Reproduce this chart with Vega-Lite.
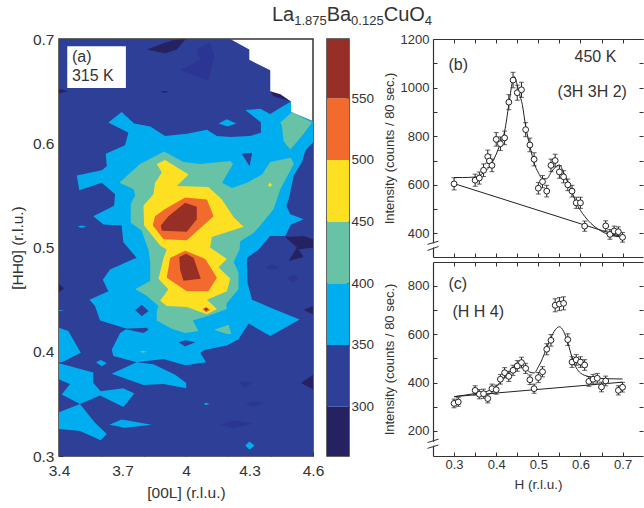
{"$schema":"https://vega.github.io/schema/vega-lite/v6.json","background":"white","autosize":{"type":"pad"},"padding":{"left":9,"top":4,"right":0,"bottom":0},"bounds":"flush","spacing":14,
"config":{"font":"Liberation Sans","view":{"stroke":null},"axis":{"labelFont":"Liberation Sans","titleFont":"Liberation Sans","labelColor":"#333","titleColor":"#333","tickColor":"#333","domainColor":"#333","grid":false,"titleFontWeight":"normal","labelOverlap":false,"labelFlush":false,"tickWidth":1,"domainWidth":1.2}},
"datasets":{
"contour":[
{"p":1,"b":"b","L":3.4,"H":0.7},{"p":1,"b":"b","L":4.209,"H":0.7},{"p":1,"b":"b","L":4.299,"H":0.69},{"p":1,"b":"b","L":4.299,"H":0.68},{"p":1,"b":"b","L":4.398,"H":0.67},{"p":1,"b":"b","L":4.398,"H":0.65},{"p":1,"b":"b","L":4.496,"H":0.64},{"p":1,"b":"b","L":4.496,"H":0.63},{"p":1,"b":"b","L":4.6,"H":0.621},{"p":1,"b":"b","L":4.6,"H":0.3},{"p":1,"b":"b","L":3.4,"H":0.3},
{"p":2,"b":"n","L":3.815,"H":0.69},{"p":2,"b":"n","L":3.894,"H":0.696},{"p":2,"b":"n","L":3.941,"H":0.699},{"p":2,"b":"n","L":3.999,"H":0.7},{"p":2,"b":"n","L":3.957,"H":0.69},{"p":2,"b":"n","L":3.901,"H":0.686},
{"p":3,"b":"n","L":4.469,"H":0.51},{"p":3,"b":"n","L":4.556,"H":0.511},{"p":3,"b":"n","L":4.6,"H":0.508},{"p":3,"b":"n","L":4.6,"H":0.5},{"p":3,"b":"n","L":4.532,"H":0.498},{"p":3,"b":"n","L":4.556,"H":0.491},{"p":3,"b":"n","L":4.485,"H":0.487},{"p":3,"b":"n","L":4.524,"H":0.5},
{"p":4,"b":"n","L":3.4,"H":0.652},{"p":4,"b":"n","L":3.444,"H":0.65},{"p":4,"b":"n","L":3.4,"H":0.648},
{"p":5,"b":"n","L":3.878,"H":0.65},{"p":5,"b":"n","L":3.917,"H":0.65},{"p":5,"b":"n","L":3.901,"H":0.648},
{"p":6,"b":"n","L":4.398,"H":0.65},{"p":6,"b":"n","L":4.446,"H":0.647},{"p":6,"b":"n","L":4.496,"H":0.64},{"p":6,"b":"n","L":4.414,"H":0.645},
{"p":7,"b":"n","L":3.4,"H":0.465},{"p":7,"b":"n","L":3.424,"H":0.461},{"p":7,"b":"n","L":3.4,"H":0.457},
{"p":8,"b":"n","L":4.556,"H":0.44},{"p":8,"b":"n","L":4.6,"H":0.444},{"p":8,"b":"n","L":4.6,"H":0.436},
{"p":9,"b":"n","L":4.543,"H":0.37},{"p":9,"b":"n","L":4.6,"H":0.378},{"p":9,"b":"n","L":4.6,"H":0.364},
{"p":10,"b":"f","L":4.051,"H":0.69},{"p":10,"b":"f","L":4.114,"H":0.697},{"p":10,"b":"f","L":4.133,"H":0.684},{"p":10,"b":"f","L":4.106,"H":0.66},{"p":10,"b":"f","L":3.972,"H":0.67},{"p":10,"b":"f","L":4.067,"H":0.68},
{"p":11,"b":"f","L":4.375,"H":0.481},{"p":11,"b":"f","L":4.406,"H":0.484},{"p":11,"b":"f","L":4.445,"H":0.481},{"p":11,"b":"f","L":4.406,"H":0.478},
{"p":12,"b":"f","L":4.477,"H":0.471},{"p":12,"b":"f","L":4.509,"H":0.474},{"p":12,"b":"f","L":4.532,"H":0.47},{"p":12,"b":"f","L":4.501,"H":0.466},
{"p":13,"b":"f","L":4.248,"H":0.37},{"p":13,"b":"f","L":4.28,"H":0.372},{"p":13,"b":"f","L":4.312,"H":0.37},{"p":13,"b":"f","L":4.28,"H":0.366},
{"p":14,"b":"f","L":4.28,"H":0.351},{"p":14,"b":"f","L":4.319,"H":0.352},{"p":14,"b":"f","L":4.367,"H":0.351},{"p":14,"b":"f","L":4.319,"H":0.347},
{"p":15,"b":"f","L":4.162,"H":0.33},{"p":15,"b":"f","L":4.225,"H":0.334},{"p":15,"b":"f","L":4.319,"H":0.331},{"p":15,"b":"f","L":4.225,"H":0.327},
{"p":20,"b":"c","L":3.633,"H":0.62},{"p":20,"b":"c","L":3.696,"H":0.63},{"p":20,"b":"c","L":3.755,"H":0.619},{"p":20,"b":"c","L":3.831,"H":0.616},{"p":20,"b":"c","L":3.901,"H":0.607},{"p":20,"b":"c","L":4.004,"H":0.609},{"p":20,"b":"c","L":4.099,"H":0.613},{"p":20,"b":"c","L":4.146,"H":0.607},{"p":20,"b":"c","L":4.209,"H":0.606},{"p":20,"b":"c","L":4.304,"H":0.607},{"p":20,"b":"c","L":4.354,"H":0.61},{"p":20,"b":"c","L":4.354,"H":0.62},{"p":20,"b":"c","L":4.28,"H":0.632},{"p":20,"b":"c","L":4.351,"H":0.633},{"p":20,"b":"c","L":4.398,"H":0.628},{"p":20,"b":"c","L":4.446,"H":0.634},{"p":20,"b":"c","L":4.496,"H":0.64},{"p":20,"b":"c","L":4.496,"H":0.63},{"p":20,"b":"c","L":4.6,"H":0.621},{"p":20,"b":"c","L":4.6,"H":0.601},{"p":20,"b":"c","L":4.564,"H":0.593},{"p":20,"b":"c","L":4.548,"H":0.582},{"p":20,"b":"c","L":4.509,"H":0.569},{"p":20,"b":"c","L":4.485,"H":0.546},{"p":20,"b":"c","L":4.474,"H":0.54},{"p":20,"b":"c","L":4.493,"H":0.532},{"p":20,"b":"c","L":4.556,"H":0.527},{"p":20,"b":"c","L":4.496,"H":0.522},{"p":20,"b":"c","L":4.469,"H":0.511},{"p":20,"b":"c","L":4.398,"H":0.511},{"p":20,"b":"c","L":4.343,"H":0.498},{"p":20,"b":"c","L":4.288,"H":0.49},{"p":20,"b":"c","L":4.291,"H":0.466},{"p":20,"b":"c","L":4.312,"H":0.45},{"p":20,"b":"c","L":4.414,"H":0.441},{"p":20,"b":"c","L":4.537,"H":0.431},{"p":20,"b":"c","L":4.398,"H":0.415},{"p":20,"b":"c","L":4.296,"H":0.427},{"p":20,"b":"c","L":4.248,"H":0.412},{"p":20,"b":"c","L":4.193,"H":0.406},{"p":20,"b":"c","L":4.091,"H":0.402},{"p":20,"b":"c","L":4.067,"H":0.399},{"p":20,"b":"c","L":4.095,"H":0.39},{"p":20,"b":"c","L":3.996,"H":0.387},{"p":20,"b":"c","L":3.894,"H":0.393},{"p":20,"b":"c","L":3.767,"H":0.39},{"p":20,"b":"c","L":3.846,"H":0.388},{"p":20,"b":"c","L":3.949,"H":0.378},{"p":20,"b":"c","L":4.001,"H":0.37},{"p":20,"b":"c","L":4.001,"H":0.365},{"p":20,"b":"c","L":3.894,"H":0.369},{"p":20,"b":"c","L":3.799,"H":0.368},{"p":20,"b":"c","L":3.649,"H":0.379},{"p":20,"b":"c","L":3.767,"H":0.39},{"p":20,"b":"c","L":3.657,"H":0.396},{"p":20,"b":"c","L":3.649,"H":0.402},{"p":20,"b":"c","L":3.689,"H":0.418},{"p":20,"b":"c","L":3.72,"H":0.422},{"p":20,"b":"c","L":3.594,"H":0.43},{"p":20,"b":"c","L":3.57,"H":0.444},{"p":20,"b":"c","L":3.544,"H":0.45},{"p":20,"b":"c","L":3.633,"H":0.458},{"p":20,"b":"c","L":3.607,"H":0.469},{"p":20,"b":"c","L":3.641,"H":0.479},{"p":20,"b":"c","L":3.752,"H":0.489},{"p":20,"b":"c","L":3.767,"H":0.49},{"p":20,"b":"c","L":3.704,"H":0.505},{"p":20,"b":"c","L":3.696,"H":0.521},{"p":20,"b":"c","L":3.61,"H":0.522},{"p":20,"b":"c","L":3.562,"H":0.53},{"p":20,"b":"c","L":3.66,"H":0.54},{"p":20,"b":"c","L":3.665,"H":0.551},{"p":20,"b":"c","L":3.602,"H":0.562},{"p":20,"b":"c","L":3.496,"H":0.555},{"p":20,"b":"c","L":3.484,"H":0.569},{"p":20,"b":"c","L":3.602,"H":0.574},{"p":20,"b":"c","L":3.626,"H":0.578},{"p":20,"b":"c","L":3.621,"H":0.59},{"p":20,"b":"c","L":3.712,"H":0.598},{"p":20,"b":"c","L":3.728,"H":0.61},
{"p":21,"b":"c","L":3.4,"H":0.423},{"p":21,"b":"c","L":3.444,"H":0.42},{"p":21,"b":"c","L":3.503,"H":0.399},{"p":21,"b":"c","L":3.413,"H":0.39},{"p":21,"b":"c","L":3.4,"H":0.39},
{"p":22,"b":"c","L":3.4,"H":0.389},{"p":22,"b":"c","L":3.562,"H":0.38},{"p":22,"b":"c","L":3.562,"H":0.37},{"p":22,"b":"c","L":3.597,"H":0.362},{"p":22,"b":"c","L":3.704,"H":0.365},{"p":22,"b":"c","L":3.756,"H":0.36},{"p":22,"b":"c","L":3.704,"H":0.347},{"p":22,"b":"c","L":3.594,"H":0.358},{"p":22,"b":"c","L":3.499,"H":0.35},{"p":22,"b":"c","L":3.413,"H":0.359},{"p":22,"b":"c","L":3.452,"H":0.369},{"p":22,"b":"c","L":3.405,"H":0.373},{"p":22,"b":"c","L":3.4,"H":0.374},
{"p":23,"b":"c","L":3.4,"H":0.342},{"p":23,"b":"c","L":3.499,"H":0.35},{"p":23,"b":"c","L":3.57,"H":0.332},{"p":23,"b":"c","L":3.626,"H":0.321},{"p":23,"b":"c","L":3.597,"H":0.315},{"p":23,"b":"c","L":3.499,"H":0.324},{"p":23,"b":"c","L":3.4,"H":0.326},
{"p":24,"b":"c","L":3.638,"H":0.33},{"p":24,"b":"c","L":3.696,"H":0.335},{"p":24,"b":"c","L":3.838,"H":0.33},{"p":24,"b":"c","L":3.712,"H":0.327},
{"p":25,"b":"c","L":3.575,"H":0.39},{"p":25,"b":"c","L":3.597,"H":0.392},{"p":25,"b":"c","L":3.626,"H":0.389},{"p":25,"b":"c","L":3.602,"H":0.386},
{"p":26,"b":"c","L":4.28,"H":0.31},{"p":26,"b":"c","L":4.3,"H":0.314},{"p":26,"b":"c","L":4.323,"H":0.31},{"p":26,"b":"c","L":4.3,"H":0.306},
{"p":27,"b":"c","L":4.083,"H":0.35},{"p":27,"b":"c","L":4.095,"H":0.351},{"p":27,"b":"c","L":4.111,"H":0.35},{"p":27,"b":"c","L":4.095,"H":0.349},
{"p":28,"b":"c","L":3.4,"H":0.44},{"p":28,"b":"c","L":3.428,"H":0.44},{"p":28,"b":"c","L":3.4,"H":0.439},
{"p":29,"b":"c","L":3.487,"H":0.52},{"p":29,"b":"c","L":3.507,"H":0.521},{"p":29,"b":"c","L":3.531,"H":0.52},{"p":29,"b":"c","L":3.507,"H":0.519},
{"p":30,"b":"c","L":4.154,"H":0.619},{"p":30,"b":"c","L":4.193,"H":0.623},{"p":30,"b":"c","L":4.237,"H":0.619},{"p":30,"b":"c","L":4.196,"H":0.616},
{"p":31,"b":"b","L":4.264,"H":0.59},{"p":31,"b":"b","L":4.313,"H":0.591},{"p":31,"b":"b","L":4.3,"H":0.578},
{"p":32,"b":"b","L":3.76,"H":0.44},{"p":32,"b":"b","L":3.791,"H":0.445},{"p":32,"b":"b","L":3.823,"H":0.439},{"p":32,"b":"b","L":3.791,"H":0.434},
{"p":33,"b":"b","L":3.704,"H":0.422},{"p":33,"b":"b","L":3.815,"H":0.423},{"p":33,"b":"b","L":3.823,"H":0.421},{"p":33,"b":"b","L":3.799,"H":0.418},
{"p":34,"b":"b","L":3.965,"H":0.409},{"p":34,"b":"b","L":3.996,"H":0.411},{"p":34,"b":"b","L":4.043,"H":0.409},{"p":34,"b":"b","L":3.996,"H":0.405},
{"p":40,"b":"g","L":3.685,"H":0.562},{"p":40,"b":"g","L":3.783,"H":0.58},{"p":40,"b":"g","L":3.897,"H":0.592},{"p":40,"b":"g","L":3.988,"H":0.582},{"p":40,"b":"g","L":4.067,"H":0.58},{"p":40,"b":"g","L":4.209,"H":0.583},{"p":40,"b":"g","L":4.222,"H":0.58},{"p":40,"b":"g","L":4.17,"H":0.562},{"p":40,"b":"g","L":4.217,"H":0.557},{"p":40,"b":"g","L":4.288,"H":0.562},{"p":40,"b":"g","L":4.359,"H":0.57},{"p":40,"b":"g","L":4.398,"H":0.582},{"p":40,"b":"g","L":4.496,"H":0.586},{"p":40,"b":"g","L":4.509,"H":0.58},{"p":40,"b":"g","L":4.446,"H":0.556},{"p":40,"b":"g","L":4.414,"H":0.537},{"p":40,"b":"g","L":4.351,"H":0.521},{"p":40,"b":"g","L":4.319,"H":0.514},{"p":40,"b":"g","L":4.256,"H":0.506},{"p":40,"b":"g","L":4.253,"H":0.498},{"p":40,"b":"g","L":4.225,"H":0.486},{"p":40,"b":"g","L":4.248,"H":0.476},{"p":40,"b":"g","L":4.248,"H":0.46},{"p":40,"b":"g","L":4.19,"H":0.446},{"p":40,"b":"g","L":4.193,"H":0.441},{"p":40,"b":"g","L":4.099,"H":0.434},{"p":40,"b":"g","L":4.032,"H":0.43},{"p":40,"b":"g","L":4.059,"H":0.42},{"p":40,"b":"g","L":3.996,"H":0.418},{"p":40,"b":"g","L":3.933,"H":0.422},{"p":40,"b":"g","L":3.862,"H":0.43},{"p":40,"b":"g","L":3.862,"H":0.439},{"p":40,"b":"g","L":3.87,"H":0.444},{"p":40,"b":"g","L":3.812,"H":0.454},{"p":40,"b":"g","L":3.76,"H":0.46},{"p":40,"b":"g","L":3.831,"H":0.468},{"p":40,"b":"g","L":3.831,"H":0.486},{"p":40,"b":"g","L":3.823,"H":0.498},{"p":40,"b":"g","L":3.815,"H":0.502},{"p":40,"b":"g","L":3.791,"H":0.516},{"p":40,"b":"g","L":3.739,"H":0.524},{"p":40,"b":"g","L":3.739,"H":0.542},{"p":40,"b":"g","L":3.76,"H":0.55},{"p":40,"b":"g","L":3.752,"H":0.556},
{"p":41,"b":"g","L":4.446,"H":0.62},{"p":41,"b":"g","L":4.501,"H":0.63},{"p":41,"b":"g","L":4.595,"H":0.62},{"p":41,"b":"g","L":4.556,"H":0.609},{"p":41,"b":"g","L":4.493,"H":0.594},{"p":41,"b":"g","L":4.461,"H":0.602},{"p":41,"b":"g","L":4.453,"H":0.617},
{"p":42,"b":"g","L":4.133,"H":0.421},{"p":42,"b":"g","L":4.201,"H":0.426},{"p":42,"b":"g","L":4.214,"H":0.417},{"p":42,"b":"g","L":4.193,"H":0.417},
{"p":43,"b":"g","L":3.78,"H":0.4},{"p":43,"b":"g","L":3.799,"H":0.401},{"p":43,"b":"g","L":3.815,"H":0.4},{"p":43,"b":"g","L":3.799,"H":0.399},
{"p":50,"b":"y","L":3.862,"H":0.58},{"p":50,"b":"y","L":3.901,"H":0.584},{"p":50,"b":"y","L":4.012,"H":0.57},{"p":50,"b":"y","L":3.957,"H":0.559},{"p":50,"b":"y","L":4.106,"H":0.558},{"p":50,"b":"y","L":4.17,"H":0.546},{"p":50,"b":"y","L":4.225,"H":0.529},{"p":50,"b":"y","L":4.272,"H":0.52},{"p":50,"b":"y","L":4.122,"H":0.51},{"p":50,"b":"y","L":4.114,"H":0.5},{"p":50,"b":"y","L":4.193,"H":0.489},{"p":50,"b":"y","L":4.154,"H":0.481},{"p":50,"b":"y","L":4.209,"H":0.47},{"p":50,"b":"y","L":4.193,"H":0.458},{"p":50,"b":"y","L":4.099,"H":0.45},{"p":50,"b":"y","L":4.146,"H":0.441},{"p":50,"b":"y","L":4.099,"H":0.436},{"p":50,"b":"y","L":4.004,"H":0.443},{"p":50,"b":"y","L":3.909,"H":0.444},{"p":50,"b":"y","L":3.878,"H":0.449},{"p":50,"b":"y","L":3.917,"H":0.46},{"p":50,"b":"y","L":3.87,"H":0.47},{"p":50,"b":"y","L":3.894,"H":0.49},{"p":50,"b":"y","L":3.909,"H":0.498},{"p":50,"b":"y","L":3.878,"H":0.502},{"p":50,"b":"y","L":3.802,"H":0.521},{"p":50,"b":"y","L":3.799,"H":0.54},{"p":50,"b":"y","L":3.846,"H":0.551},{"p":50,"b":"y","L":3.854,"H":0.562},{"p":50,"b":"y","L":3.886,"H":0.572},
{"p":51,"b":"y","L":4.387,"H":0.56},{"p":51,"b":"y","L":4.398,"H":0.562},{"p":51,"b":"y","L":4.406,"H":0.56},{"p":51,"b":"y","L":4.397,"H":0.558},
{"p":60,"b":"o","L":3.901,"H":0.537},{"p":60,"b":"o","L":3.996,"H":0.548},{"p":60,"b":"o","L":4.099,"H":0.546},{"p":60,"b":"o","L":4.13,"H":0.53},{"p":60,"b":"o","L":4.004,"H":0.507},{"p":60,"b":"o","L":3.894,"H":0.508},{"p":60,"b":"o","L":3.843,"H":0.521},{"p":60,"b":"o","L":3.854,"H":0.53},
{"p":61,"b":"o","L":3.925,"H":0.49},{"p":61,"b":"o","L":3.996,"H":0.497},{"p":61,"b":"o","L":4.091,"H":0.489},{"p":61,"b":"o","L":4.146,"H":0.471},{"p":61,"b":"o","L":4.106,"H":0.458},{"p":61,"b":"o","L":4.004,"H":0.458},{"p":61,"b":"o","L":3.909,"H":0.471},
{"p":62,"b":"o","L":4.078,"H":0.441},{"p":62,"b":"o","L":4.095,"H":0.443},{"p":62,"b":"o","L":4.114,"H":0.44},{"p":62,"b":"o","L":4.095,"H":0.438},
{"p":70,"b":"r","L":3.917,"H":0.53},{"p":70,"b":"r","L":3.996,"H":0.543},{"p":70,"b":"r","L":4.051,"H":0.539},{"p":70,"b":"r","L":4.051,"H":0.527},{"p":70,"b":"r","L":4.004,"H":0.515},{"p":70,"b":"r","L":3.886,"H":0.516},{"p":70,"b":"r","L":3.881,"H":0.521},
{"p":71,"b":"r","L":3.968,"H":0.491},{"p":71,"b":"r","L":4.001,"H":0.494},{"p":71,"b":"r","L":4.036,"H":0.49},{"p":71,"b":"r","L":4.07,"H":0.47},{"p":71,"b":"r","L":3.988,"H":0.468},{"p":71,"b":"r","L":3.972,"H":0.479},
{"p":72,"b":"r","L":4.086,"H":0.441},{"p":72,"b":"r","L":4.095,"H":0.442},{"p":72,"b":"r","L":4.106,"H":0.441},{"p":72,"b":"r","L":4.095,"H":0.439}
],
"bPts":[{"H":0.3,"I":604,"lo":579,"hi":629},{"H":0.35,"I":619,"lo":594,"hi":644},{"H":0.36,"I":628,"lo":603,"hi":653},{"H":0.37,"I":660,"lo":634,"hi":686},{"H":0.38,"I":716,"lo":689,"hi":743},{"H":0.384,"I":698,"lo":672,"hi":724},{"H":0.39,"I":680,"lo":654,"hi":706},{"H":0.4,"I":787,"lo":759,"hi":815},{"H":0.41,"I":769,"lo":741,"hi":797},{"H":0.42,"I":793,"lo":765,"hi":821},{"H":0.43,"I":940,"lo":909,"hi":971},{"H":0.44,"I":1031,"lo":999,"hi":1063},{"H":0.45,"I":979,"lo":948,"hi":1010},{"H":0.46,"I":991,"lo":960,"hi":1022},{"H":0.47,"I":827,"lo":798,"hi":856},{"H":0.48,"I":764,"lo":736,"hi":792},{"H":0.49,"I":705,"lo":678,"hi":732},{"H":0.5,"I":586,"lo":562,"hi":610},{"H":0.51,"I":613,"lo":588,"hi":638},{"H":0.52,"I":574,"lo":550,"hi":598},{"H":0.53,"I":680,"lo":654,"hi":706},{"H":0.54,"I":700,"lo":674,"hi":726},{"H":0.55,"I":653,"lo":627,"hi":679},{"H":0.56,"I":633,"lo":608,"hi":658},{"H":0.57,"I":600,"lo":576,"hi":624},{"H":0.58,"I":574,"lo":550,"hi":598},{"H":0.59,"I":526,"lo":503,"hi":549},{"H":0.6,"I":526,"lo":503,"hi":549},{"H":0.61,"I":430,"lo":409,"hi":451},{"H":0.66,"I":431,"lo":410,"hi":452},{"H":0.67,"I":396,"lo":376,"hi":416},{"H":0.68,"I":410,"lo":390,"hi":430},{"H":0.69,"I":407,"lo":387,"hi":427},{"H":0.7,"I":384,"lo":364,"hi":404}],
"bFit":[{"H":0.3,"I":630},{"H":0.32,"I":630},{"H":0.35,"I":632},{"H":0.37,"I":650},{"H":0.39,"I":690},{"H":0.41,"I":770},{"H":0.42,"I":820},{"H":0.43,"I":930},{"H":0.44,"I":1035},{"H":0.443,"I":1045},{"H":0.45,"I":1010},{"H":0.455,"I":975},{"H":0.462,"I":930},{"H":0.47,"I":840},{"H":0.48,"I":760},{"H":0.49,"I":690},{"H":0.5,"I":650},{"H":0.51,"I":625},{"H":0.52,"I":625},{"H":0.53,"I":650},{"H":0.54,"I":672},{"H":0.55,"I":682},{"H":0.56,"I":650},{"H":0.57,"I":610},{"H":0.58,"I":570},{"H":0.59,"I":525},{"H":0.6,"I":495},{"H":0.62,"I":450},{"H":0.64,"I":420},{"H":0.66,"I":400},{"H":0.68,"I":390},{"H":0.7,"I":385}],
"bBg":[{"H":0.3,"I":605},{"H":0.7,"I":385}],
"cPts":[{"H":0.3,"I":314,"lo":296,"hi":332},{"H":0.31,"I":320,"lo":302,"hi":338},{"H":0.35,"I":368,"lo":349,"hi":387},{"H":0.36,"I":352,"lo":333,"hi":371},{"H":0.37,"I":354,"lo":335,"hi":373},{"H":0.38,"I":334,"lo":316,"hi":352},{"H":0.39,"I":375,"lo":356,"hi":394},{"H":0.4,"I":371,"lo":352,"hi":390},{"H":0.41,"I":414,"lo":394,"hi":434},{"H":0.42,"I":441,"lo":420,"hi":462},{"H":0.43,"I":426,"lo":405,"hi":447},{"H":0.44,"I":451,"lo":430,"hi":472},{"H":0.45,"I":469,"lo":447,"hi":491},{"H":0.46,"I":483,"lo":461,"hi":505},{"H":0.47,"I":459,"lo":438,"hi":480},{"H":0.48,"I":412,"lo":392,"hi":432},{"H":0.49,"I":375,"lo":356,"hi":394},{"H":0.5,"I":421,"lo":400,"hi":442},{"H":0.51,"I":445,"lo":424,"hi":466},{"H":0.52,"I":538,"lo":515,"hi":561},{"H":0.53,"I":575,"lo":551,"hi":599},{"H":0.54,"I":720,"lo":693,"hi":747},{"H":0.55,"I":725,"lo":698,"hi":752},{"H":0.56,"I":728,"lo":701,"hi":755},{"H":0.57,"I":578,"lo":554,"hi":602},{"H":0.58,"I":485,"lo":463,"hi":507},{"H":0.59,"I":494,"lo":472,"hi":516},{"H":0.6,"I":485,"lo":463,"hi":507},{"H":0.61,"I":473,"lo":451,"hi":495},{"H":0.62,"I":405,"lo":385,"hi":425},{"H":0.63,"I":414,"lo":394,"hi":434},{"H":0.64,"I":418,"lo":398,"hi":438},{"H":0.65,"I":382,"lo":362,"hi":402},{"H":0.66,"I":407,"lo":387,"hi":427},{"H":0.69,"I":368,"lo":349,"hi":387},{"H":0.7,"I":381,"lo":361,"hi":401}],
"cFit":[{"H":0.3,"I":342},{"H":0.35,"I":355},{"H":0.38,"I":365},{"H":0.4,"I":385},{"H":0.42,"I":420},{"H":0.44,"I":460},{"H":0.45,"I":472},{"H":0.46,"I":475},{"H":0.47,"I":460},{"H":0.48,"I":443},{"H":0.49,"I":440},{"H":0.5,"I":465},{"H":0.51,"I":500},{"H":0.52,"I":545},{"H":0.53,"I":585},{"H":0.54,"I":618},{"H":0.55,"I":631},{"H":0.56,"I":612},{"H":0.57,"I":565},{"H":0.58,"I":505},{"H":0.59,"I":462},{"H":0.6,"I":440},{"H":0.62,"I":425},{"H":0.64,"I":418},{"H":0.7,"I":415}],
"cBg":[{"H":0.3,"I":342},{"H":0.7,"I":402}]
},
"hconcat":[
{"width":254,"height":417,"view":{"stroke":"#333","strokeWidth":1.5},"resolve":{"axis":{"x":"independent","y":"independent"}},
"layer":[
{"data":{"name":"contour"},"mark":{"type":"line","filled":true,"clip":true,"interpolate":"linear","order":false},
"encoding":{"x":{"field":"L","type":"quantitative","scale":{"domain":[3.4,4.6],"nice":false,"zero":false},"axis":{"title":"[00L] (r.l.u.)","titleFontSize":15.5,"titlePadding":7,"labelFontSize":15.5,"values":[3.4,3.6,3.7,3.8,4,4.2,4.3,4.4,4.6],"labelExpr":"indexof([3.4,3.7,4,4.3,4.6],datum.value)>=0?format(datum.value,'.2~f'):''","tickSize":-4,"labelPadding":11,"domain":false,"tickOpacity":{"condition":{"test":"datum.value==3.7||datum.value==4.3","value":0},"value":1}}},
"y":{"field":"H","type":"quantitative","scale":{"domain":[0.3,0.7],"nice":false,"zero":false},"axis":{"title":"[HH0] (r.l.u.)","titleFontSize":15.5,"titlePadding":7,"labelFontSize":15.5,"values":[0.3,0.35,0.4,0.45,0.5,0.55,0.6,0.65,0.7],"labelExpr":"round(datum.value*100)%10==0?format(datum.value,'.1f'):''","tickSize":-4,"labelPadding":9,"domain":false}},
"detail":{"field":"p","type":"nominal"},
"color":{"field":"b","type":"nominal","legend":null,"scale":{"domain":["n","f","b","c","g","y","o","r"],"range":["#262262","#2C3593","#2E3F98","#00AEEF","#68C3A6","#FDE022","#F26B2D","#982F26"]}}}},
{"data":{"values":[{"L1":3.439,"L2":3.716,"H1":0.653,"H2":0.693}]},"mark":{"type":"rect","fill":"white"},"encoding":{"x":{"field":"L1","type":"quantitative","axis":null,"scale":{"domain":[3.4,4.6],"nice":false,"zero":false}},"x2":{"field":"L2"},"y":{"field":"H1","type":"quantitative","axis":null,"scale":{"domain":[0.3,0.7],"nice":false,"zero":false}},"y2":{"field":"H2"}}},
{"data":{"values":[{"t":"(a)","L":3.461,"H":0.683},{"t":"315 K","L":3.461,"H":0.6645}]},"mark":{"type":"text","align":"left","baseline":"middle","fontSize":16,"color":"#333","font":"Liberation Sans"},"encoding":{"x":{"field":"L","type":"quantitative","axis":null,"scale":{"domain":[3.4,4.6],"nice":false,"zero":false}},"y":{"field":"H","type":"quantitative","axis":null,"scale":{"domain":[0.3,0.7],"nice":false,"zero":false}},"text":{"field":"t"}}},
{"data":{"values":[{"t":"La","L":4.406,"H":0.717},{"t":"Ba","L":4.665,"H":0.717},{"t":"CuO","L":4.934,"H":0.717}]},"mark":{"type":"text","align":"left","baseline":"alphabetic","fontSize":20,"color":"#333","font":"Liberation Sans"},"encoding":{"x":{"field":"L","type":"quantitative","axis":null,"scale":{"domain":[3.4,4.6],"nice":false,"zero":false}},"y":{"field":"H","type":"quantitative","axis":null,"scale":{"domain":[0.3,0.7],"nice":false,"zero":false}},"text":{"field":"t"}}},
{"data":{"values":[{"t":"1.875","L":4.511,"H":0.7134},{"t":"0.125","L":4.78,"H":0.7134},{"t":"4","L":5.128,"H":0.7134}]},"mark":{"type":"text","align":"left","baseline":"alphabetic","fontSize":13,"color":"#333","font":"Liberation Sans"},"encoding":{"x":{"field":"L","type":"quantitative","axis":null,"scale":{"domain":[3.4,4.6],"nice":false,"zero":false}},"y":{"field":"H","type":"quantitative","axis":null,"scale":{"domain":[0.3,0.7],"nice":false,"zero":false}},"text":{"field":"t"}}}
]},
{"width":22,"height":417,"view":{"stroke":"#333","strokeWidth":1.5},
"data":{"values":[{"lo":260,"hi":300,"b":"n"},{"lo":300,"hi":350,"b":"b"},{"lo":350,"hi":400,"b":"c"},{"lo":400,"hi":450,"b":"g"},{"lo":450,"hi":500,"b":"y"},{"lo":500,"hi":550,"b":"o"},{"lo":550,"hi":598,"b":"r"}]},
"mark":{"type":"rect"},
"encoding":{"y":{"field":"lo","type":"quantitative","title":null,"scale":{"domain":[260,598],"nice":false,"zero":false},"axis":{"orient":"right","values":[300,350,400,450,500,550],"labelFontSize":13.5,"tickSize":-3,"labelPadding":5,"domain":false,"title":null}},"y2":{"field":"hi"},"color":{"field":"b","type":"nominal","legend":null,"scale":{"domain":["n","f","b","c","g","y","o","r"],"range":["#262262","#2C3593","#2E3F98","#00AEEF","#68C3A6","#FDE022","#F26B2D","#982F26"]}}}},
{"width":56,"height":417,"data":{"values":[{"t":""}]},"mark":{"type":"text"},"encoding":{"text":{"field":"t"}}},
{"bounds":"flush","spacing":5,"vconcat":[
{"width":210,"height":218,"resolve":{"axis":{"x":"independent","y":"independent"}},
"layer":[
{"data":{"name":"bBg"},"mark":{"type":"line","color":"#222","strokeWidth":1},"encoding":{
"x":{"field":"H","type":"quantitative","scale":{"domain":[0.25,0.7485],"nice":false,"zero":false},"axis":{"orient":"bottom","title":null,"values":[0.3,0.35,0.4,0.45,0.5,0.55,0.6,0.65,0.7],"labels":false,"tickSize":-4}},
"y":{"field":"I","type":"quantitative","scale":{"domain":[303,1200],"nice":false,"zero":false},"axis":{"orient":"left","title":"Intensity (counts / 80 sec.)","titleFontSize":13,"titlePadding":4,"labelFontSize":13,"values":[400,500,600,700,800,900,1000,1100,1200],"labelExpr":"datum.value%200==0?datum.value:''","tickSize":-4,"labelPadding":8}}}},
{"data":{"name":"bFit"},"mark":{"type":"line","color":"#222","strokeWidth":1,"interpolate":"monotone"},"encoding":{
"x":{"field":"H","type":"quantitative","scale":{"domain":[0.25,0.7485],"nice":false,"zero":false},"axis":{"orient":"top","title":null,"values":[0.3,0.35,0.4,0.45,0.5,0.55,0.6,0.65,0.7],"labels":false,"tickSize":-4}},
"y":{"field":"I","type":"quantitative","scale":{"domain":[303,1200],"nice":false,"zero":false},"axis":{"orient":"right","title":null,"domain":false,"labels":false,"values":[400,500,600,700,800,900,1000,1100,1200],"tickSize":-4}}}},
{"data":{"name":"bPts"},"mark":{"type":"rule","color":"#222","strokeWidth":1},"encoding":{"x":{"field":"H","type":"quantitative","axis":null,"scale":{"domain":[0.25,0.7485],"nice":false,"zero":false}},"y":{"field":"lo","type":"quantitative","axis":null,"scale":{"domain":[303,1200],"nice":false,"zero":false}},"y2":{"field":"hi"}}},
{"data":{"name":"bPts"},"mark":{"type":"tick","orient":"horizontal","color":"#222","size":5,"thickness":1},"encoding":{"x":{"field":"H","type":"quantitative","axis":null,"scale":{"domain":[0.25,0.7485],"nice":false,"zero":false}},"y":{"field":"lo","type":"quantitative","axis":null,"scale":{"domain":[303,1200],"nice":false,"zero":false}}}},
{"data":{"name":"bPts"},"mark":{"type":"tick","orient":"horizontal","color":"#222","size":5,"thickness":1},"encoding":{"x":{"field":"H","type":"quantitative","axis":null,"scale":{"domain":[0.25,0.7485],"nice":false,"zero":false}},"y":{"field":"hi","type":"quantitative","axis":null,"scale":{"domain":[303,1200],"nice":false,"zero":false}}}},
{"data":{"name":"bPts"},"mark":{"type":"point","shape":"circle","filled":true,"fill":"white","stroke":"#222","strokeWidth":1,"size":34,"opacity":1},"encoding":{"x":{"field":"H","type":"quantitative","axis":null,"scale":{"domain":[0.25,0.7485],"nice":false,"zero":false}},"y":{"field":"I","type":"quantitative","axis":null,"scale":{"domain":[303,1200],"nice":false,"zero":false}}}},
{"data":{"values":[{"a":0.25,"u":359,"v":342}]},"mark":{"type":"rule","color":"white","strokeWidth":3},"encoding":{"x":{"field":"a","type":"quantitative","axis":null,"scale":{"domain":[0.25,0.7485],"nice":false,"zero":false}},"y":{"field":"u","type":"quantitative","axis":null,"scale":{"domain":[303,1200],"nice":false,"zero":false}},"y2":{"field":"v"}}},
{"data":{"values":[{"a":0.237,"b":0.263,"u":355,"v":368},{"a":0.237,"b":0.263,"u":330,"v":346}]},"mark":{"type":"rule","color":"#333","strokeWidth":1},"encoding":{"x":{"field":"a","type":"quantitative","axis":null,"scale":{"domain":[0.25,0.7485],"nice":false,"zero":false}},"x2":{"field":"b"},"y":{"field":"u","type":"quantitative","axis":null,"scale":{"domain":[303,1200],"nice":false,"zero":false}},"y2":{"field":"v"}}},
{"data":{"values":[{"t":"(b)","H":0.2868,"I":1091},{"t":"450 K","H":0.586,"I":1124},{"t":"(3H 3H 2)","H":0.5457,"I":980}]},"mark":{"type":"text","align":"left","baseline":"middle","fontSize":16,"color":"#333","font":"Liberation Sans"},"encoding":{"x":{"field":"H","type":"quantitative","axis":null,"scale":{"domain":[0.25,0.7485],"nice":false,"zero":false}},"y":{"field":"I","type":"quantitative","axis":null,"scale":{"domain":[303,1200],"nice":false,"zero":false}},"text":{"field":"t"}}}
]},
{"width":210,"height":194,"resolve":{"axis":{"x":"independent","y":"independent"}},
"layer":[
{"data":{"name":"cBg"},"mark":{"type":"line","color":"#222","strokeWidth":1},"encoding":{
"x":{"field":"H","type":"quantitative","scale":{"domain":[0.25,0.7485],"nice":false,"zero":false},"axis":{"orient":"bottom","title":"H (r.l.u.)","titleFontSize":13.5,"titlePadding":6,"labelFontSize":13,"values":[0.3,0.35,0.4,0.45,0.5,0.55,0.6,0.65,0.7],"labelExpr":"round(datum.value*100)%10==0?format(datum.value,'.1f'):''","tickSize":-4,"labelPadding":6}},
"y":{"field":"I","type":"quantitative","scale":{"domain":[96.5,899],"nice":false,"zero":false},"axis":{"orient":"left","title":"Intensity (counts / 80 sec.)","titleFontSize":13,"titlePadding":11,"labelFontSize":13,"values":[200,300,400,500,600,700,800],"labelExpr":"datum.value%200==0?datum.value:''","tickSize":-4,"labelPadding":8}}}},
{"data":{"name":"cFit"},"mark":{"type":"line","color":"#222","strokeWidth":1,"interpolate":"monotone"},"encoding":{
"x":{"field":"H","type":"quantitative","scale":{"domain":[0.25,0.7485],"nice":false,"zero":false},"axis":{"orient":"top","title":null,"values":[0.3,0.35,0.4,0.45,0.5,0.55,0.6,0.65,0.7],"labels":false,"tickSize":-4}},
"y":{"field":"I","type":"quantitative","scale":{"domain":[96.5,899],"nice":false,"zero":false},"axis":{"orient":"right","title":null,"domain":false,"labels":false,"values":[200,300,400,500,600,700,800],"tickSize":-4}}}},
{"data":{"name":"cPts"},"mark":{"type":"rule","color":"#222","strokeWidth":1},"encoding":{"x":{"field":"H","type":"quantitative","axis":null,"scale":{"domain":[0.25,0.7485],"nice":false,"zero":false}},"y":{"field":"lo","type":"quantitative","axis":null,"scale":{"domain":[96.5,899],"nice":false,"zero":false}},"y2":{"field":"hi"}}},
{"data":{"name":"cPts"},"mark":{"type":"tick","orient":"horizontal","color":"#222","size":5,"thickness":1},"encoding":{"x":{"field":"H","type":"quantitative","axis":null,"scale":{"domain":[0.25,0.7485],"nice":false,"zero":false}},"y":{"field":"lo","type":"quantitative","axis":null,"scale":{"domain":[96.5,899],"nice":false,"zero":false}}}},
{"data":{"name":"cPts"},"mark":{"type":"tick","orient":"horizontal","color":"#222","size":5,"thickness":1},"encoding":{"x":{"field":"H","type":"quantitative","axis":null,"scale":{"domain":[0.25,0.7485],"nice":false,"zero":false}},"y":{"field":"hi","type":"quantitative","axis":null,"scale":{"domain":[96.5,899],"nice":false,"zero":false}}}},
{"data":{"name":"cPts"},"mark":{"type":"point","shape":"circle","filled":true,"fill":"white","stroke":"#222","strokeWidth":1,"size":34,"opacity":1},"encoding":{"x":{"field":"H","type":"quantitative","axis":null,"scale":{"domain":[0.25,0.7485],"nice":false,"zero":false}},"y":{"field":"I","type":"quantitative","axis":null,"scale":{"domain":[96.5,899],"nice":false,"zero":false}}}},
{"data":{"values":[{"a":0.25,"u":155,"v":139}]},"mark":{"type":"rule","color":"white","strokeWidth":3},"encoding":{"x":{"field":"a","type":"quantitative","axis":null,"scale":{"domain":[0.25,0.7485],"nice":false,"zero":false}},"y":{"field":"u","type":"quantitative","axis":null,"scale":{"domain":[96.5,899],"nice":false,"zero":false}},"y2":{"field":"v"}}},
{"data":{"values":[{"a":0.237,"b":0.263,"u":152,"v":166},{"a":0.237,"b":0.263,"u":128,"v":142}]},"mark":{"type":"rule","color":"#333","strokeWidth":1},"encoding":{"x":{"field":"a","type":"quantitative","axis":null,"scale":{"domain":[0.25,0.7485],"nice":false,"zero":false}},"x2":{"field":"b"},"y":{"field":"u","type":"quantitative","axis":null,"scale":{"domain":[96.5,899],"nice":false,"zero":false}},"y2":{"field":"v"}}},
{"data":{"values":[{"t":"(c)","H":0.2868,"I":807},{"t":"(H H 4)","H":0.2963,"I":692}]},"mark":{"type":"text","align":"left","baseline":"middle","fontSize":16,"color":"#333","font":"Liberation Sans"},"encoding":{"x":{"field":"H","type":"quantitative","axis":null,"scale":{"domain":[0.25,0.7485],"nice":false,"zero":false}},"y":{"field":"I","type":"quantitative","axis":null,"scale":{"domain":[96.5,899],"nice":false,"zero":false}},"text":{"field":"t"}}}
]}
]}
]}
